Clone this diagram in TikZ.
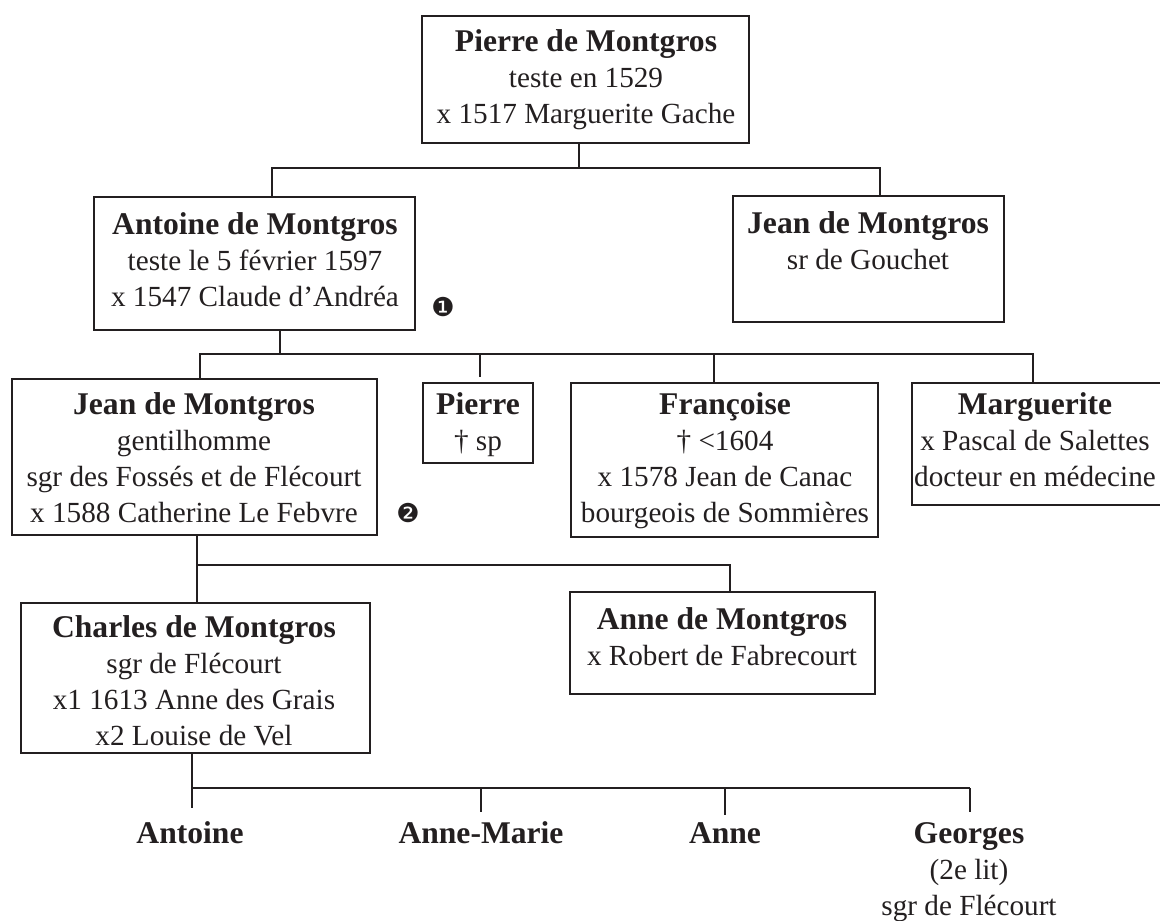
\documentclass[tikz,border=0pt]{standalone}
\usepackage{fontspec}
\setmainfont{Liberation Serif}
\newfontfamily\dingfont{DejaVu Sans}
\definecolor{ink}{RGB}{35,31,32}
\tikzset{
  famline/.style={draw=ink, line width=1pt},
  fambox/.style={draw=ink, line width=1pt, rectangle, inner sep=0pt, outer sep=0pt},
  famtext/.style={text=ink, align=center, inner sep=0pt, anchor=base, font=\fontsize{14.6}{18}\selectfont},
  marker/.style={text=ink, inner sep=0pt, font=\dingfont\fontsize{13}{15}\selectfont}
}
\newcommand\nm[1]{{\fontsize{15.8}{18}\selectfont\bfseries #1}}
\newcommand\famrect[5]{\node[fambox, minimum width={(#4-#2)*0.5pt}, minimum height={(#5-#3)*0.5pt}] (#1) at ({(#2+#4)/2},{(#3+#5)/2}) {};}
\begin{document}
\begin{tikzpicture}[x=0.5pt, y=-0.5pt]
\useasboundingbox (0,0) rectangle (1160,920);
% boxes
\famrect{pierre}{422}{16}{749}{143}
\famrect{antoine}{94}{197}{415}{330}
\famrect{jeanr}{733}{196}{1004}{322}
\famrect{jean}{12}{379}{377}{535}
\famrect{pierrep}{423}{383}{533}{463}
\famrect{francoise}{571}{383}{878}{537}
\famrect{marguerite}{912}{383}{1162}{505}
\famrect{charles}{21}{603}{370}{753}
\famrect{anne}{570}{592}{875}{694}
% texts (anchored at the baseline of the last line)
\node[famtext] (pierre-t) at (586,124) {\nm{Pierre de Montgros}\\teste en 1529\\x 1517 Marguerite Gache};
\node[famtext] (antoine-t) at (255,306) {\nm{Antoine de Montgros}\\teste le 5 février 1597\\x 1547 Claude d’Andréa};
\node[famtext] (jeanr-t) at (868,269) {\nm{Jean de Montgros}\\sr de Gouchet};
\node[famtext] (jean-t) at (194,522) {\nm{Jean de Montgros}\\gentilhomme\\sgr des Fossés et de Flécourt\\x 1588 Catherine Le Febvre};
\node[famtext] (pierrep-t) at (478,450) {\nm{Pierre}\\† sp};
\node[famtext] (francoise-t) at (725,522) {\nm{Françoise}\\† <1604\\x 1578 Jean de Canac\\bourgeois de Sommières};
\node[famtext] (marguerite-t) at (1035,486) {\nm{Marguerite}\\x Pascal de Salettes\\docteur en médecine};
\node[famtext] (charles-t) at (194,745) {\nm{Charles de Montgros}\\sgr de Flécourt\\x1 1613 Anne des Grais\\x2 Louise de Vel};
\node[famtext] (anne-t) at (722,665) {\nm{Anne de Montgros}\\x Robert de Fabrecourt};
\node[famtext] (antoinec) at (190,843) {\nm{Antoine}};
\node[famtext] (annemarie) at (481,843) {\nm{Anne-Marie}};
\node[famtext] (annec) at (725,843) {\nm{Anne}};
\node[famtext, anchor=north] (georges) at (969,822) {\nm{Georges}\\(2e lit)\\sgr de Flécourt};
% markers
\node[marker] (m1) at (443,307) {❶};
\node[marker] (m2) at (408,513) {❷};
% generation 1
\coordinate (g1l) at (272,168);
\coordinate (g1m) at (579,168);
\coordinate (g1r) at (880,168);
\draw[famline] (g1m |- pierre.south) -- (g1m);
\draw[famline] (g1l |- antoine.north) -- (g1l) -- (g1r) -- (g1r |- jeanr.north);
% generation 2
\coordinate (g2a) at (200,354);
\coordinate (g2m) at (280,354);
\coordinate (g2b) at (480,354);
\coordinate (g2c) at (714,354);
\coordinate (g2d) at (1033,354);
\draw[famline] (g2m |- antoine.south) -- (g2m);
\draw[famline] (g2a |- jean.north) -- (g2a) -- (g2d) -- (g2d |- marguerite.north);
\draw[famline, shorten >=3pt] (g2b) -- (g2b |- pierrep.north);
\draw[famline] (g2c) -- (g2c |- francoise.north);
% generation 3
\coordinate (g3a) at (197,565);
\coordinate (g3b) at (730,565);
\draw[famline] (g3a |- jean.south) -- (g3a |- charles.north);
\draw[famline] (g3a) -- (g3b) -- (g3b |- anne.north);
% generation 4
\coordinate (g4a) at (192,788);
\coordinate (g4b) at (481,788);
\coordinate (g4c) at (725,788);
\coordinate (g4d) at (970,788);
\draw[famline] (g4a |- charles.south) -- (192,808);
\draw[famline] (g4a) -- (g4d);
\draw[famline] (g4b) -- (481,812);
\draw[famline] (g4c) -- (725,815);
\draw[famline, shorten >=5pt] (g4d) -- (g4d |- georges.north);
\end{tikzpicture}
\end{document}
